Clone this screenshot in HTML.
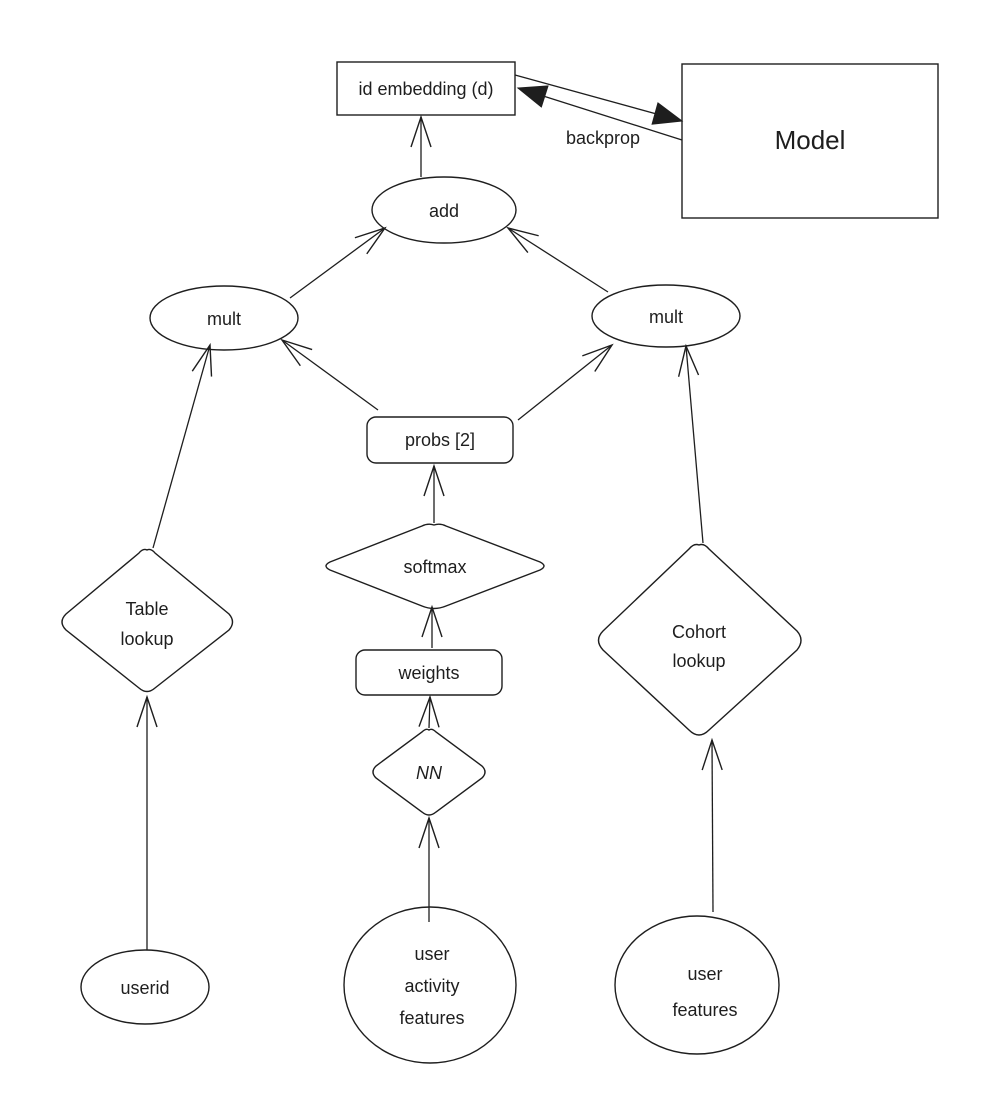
<!DOCTYPE html>
<html><head><meta charset="utf-8"><style>
html,body{margin:0;padding:0;background:#fff}
svg text{font-family:"Liberation Sans",sans-serif;fill:#1e1e1e;text-anchor:middle}
</style></head><body>
<svg width="986" height="1098" viewBox="0 0 986 1098" xmlns="http://www.w3.org/2000/svg">
<defs>
<marker id="v" markerUnits="userSpaceOnUse" markerWidth="40" markerHeight="40" refX="30" refY="20" orient="auto" overflow="visible">
<path d="M0,10 L30,20 L0,30" fill="none" stroke="#1e1e1e" stroke-width="1.4"/>
</marker>
<marker id="f" markerUnits="userSpaceOnUse" markerWidth="40" markerHeight="40" refX="30" refY="20" orient="auto" overflow="visible">
<path d="M2,9 L30,20 L2,31 Z" fill="#1e1e1e" stroke="#1e1e1e" stroke-width="1"/>
</marker>
</defs>
<g fill="none" stroke="#1e1e1e" stroke-width="1.4">
<rect x="337" y="62" width="178" height="53"/>
<rect x="682" y="64" width="256" height="154"/>
<ellipse cx="444" cy="210" rx="72" ry="33"/>
<ellipse cx="224" cy="318" rx="74" ry="32"/>
<ellipse cx="666" cy="316" rx="74" ry="31"/>
<rect x="367" y="417" width="146" height="46" rx="9"/>
<path d="M434,525 Q440,523 446,526 L540,562 Q548,566 540,570 L446,606 Q434,611 422,606 L330,570 Q322,566 330,562 L422,526 Q428,523 434,525Z"/>
<rect x="356" y="650" width="146" height="45" rx="9"/>
<path d="M429,730 Q432,728 436,732 L482,766 Q488,772 482,778 L436,812 Q429,818 422,812 L376,778 Q370,772 376,766 L422,732 Q426,728 429,730Z"/>
<path d="M147,550 Q151,548 155,553 L229,614 Q236,622 229,630 L155,688 Q147,695 139,688 L66,630 Q58,622 66,614 L139,553 Q143,548 147,550Z"/>
<path d="M699,545 Q704,543 709,549 L797,631 Q805,640 797,650 L709,730 Q699,740 689,730 L603,650 Q594,640 603,631 L689,549 Q694,543 699,545Z"/>
<ellipse cx="145" cy="987" rx="64" ry="37"/>
<ellipse cx="430" cy="985" rx="86" ry="78"/>
<ellipse cx="697" cy="985" rx="82" ry="69"/>
</g>
<g fill="none" stroke="#1e1e1e" stroke-width="1.3">
<line x1="515" y1="75" x2="682" y2="121" marker-end="url(#f)"/>
<line x1="682" y1="140" x2="518" y2="88" marker-end="url(#f)"/>
<line x1="421" y1="177" x2="421" y2="117" marker-end="url(#v)"/>
<line x1="290" y1="298" x2="385" y2="228" marker-end="url(#v)"/>
<line x1="608" y1="292" x2="508" y2="228" marker-end="url(#v)"/>
<line x1="378" y1="410" x2="282" y2="340" marker-end="url(#v)"/>
<line x1="518" y1="420" x2="612" y2="345" marker-end="url(#v)"/>
<line x1="434" y1="523" x2="434" y2="466" marker-end="url(#v)"/>
<line x1="432" y1="648" x2="432" y2="607" marker-end="url(#v)"/>
<line x1="429" y1="728" x2="430" y2="697" marker-end="url(#v)"/>
<line x1="429" y1="922" x2="429" y2="818" marker-end="url(#v)"/>
<line x1="153" y1="548" x2="210" y2="345" marker-end="url(#v)"/>
<line x1="703" y1="543" x2="686" y2="346" marker-end="url(#v)"/>
<line x1="147" y1="950" x2="147" y2="697" marker-end="url(#v)"/>
<line x1="713" y1="912" x2="712" y2="740" marker-end="url(#v)"/>
</g>
<g font-size="18">
<text x="426" y="95">id embedding (d)</text>
<text x="603" y="144">backprop</text>
<text x="810" y="149" font-size="26">Model</text>
<text x="444" y="217">add</text>
<text x="224" y="325">mult</text>
<text x="666" y="323">mult</text>
<text x="440" y="446">probs [2]</text>
<text x="435" y="573">softmax</text>
<text x="429" y="679">weights</text>
<text x="429" y="779" font-style="italic">NN</text>
<text x="147" y="615">Table</text>
<text x="147" y="645">lookup</text>
<text x="699" y="638">Cohort</text>
<text x="699" y="667">lookup</text>
<text x="145" y="994">userid</text>
<text x="432" y="960">user</text>
<text x="432" y="992">activity</text>
<text x="432" y="1024">features</text>
<text x="705" y="980">user</text>
<text x="705" y="1016">features</text>
</g>
</svg>
</body></html>
